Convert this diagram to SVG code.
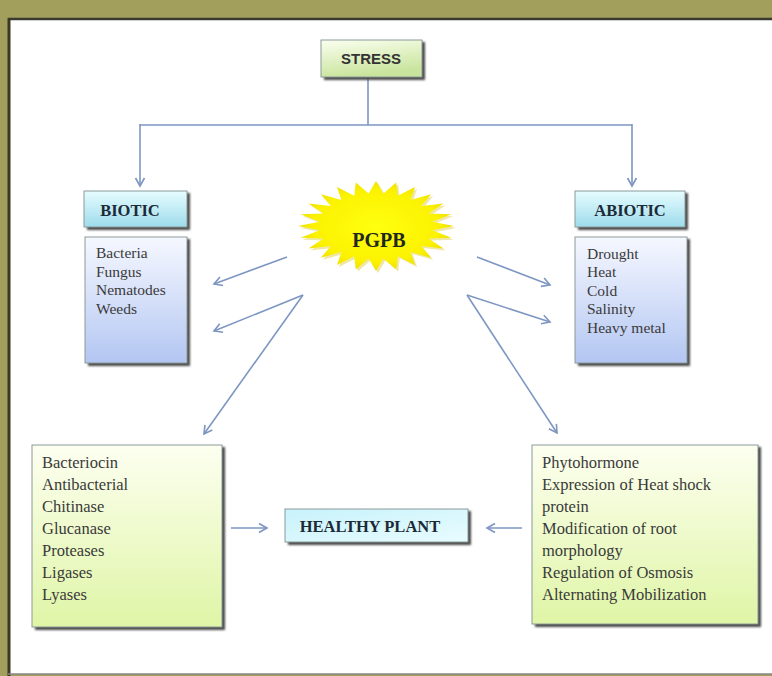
<svg xmlns="http://www.w3.org/2000/svg" width="772" height="676" viewBox="0 0 772 676">
<defs>
<linearGradient id="gGreen" x1="0" y1="0" x2="0.3" y2="1"><stop offset="0" stop-color="#fbfff0"/><stop offset="1" stop-color="#c9e49c"/></linearGradient>
<linearGradient id="gCyan" x1="0" y1="0" x2="0" y2="1"><stop offset="0" stop-color="#e6fcff"/><stop offset="1" stop-color="#9edcec"/></linearGradient>
<linearGradient id="gCyan2" x1="0" y1="0" x2="1" y2="1"><stop offset="0" stop-color="#c8f2fb"/><stop offset="1" stop-color="#e8fcff"/></linearGradient>
<linearGradient id="gBlue" x1="0" y1="0" x2="0" y2="1"><stop offset="0" stop-color="#f6f8ff"/><stop offset="1" stop-color="#b3c6f2"/></linearGradient>
<linearGradient id="gLime" x1="0" y1="0" x2="0" y2="1"><stop offset="0" stop-color="#fdfff0"/><stop offset="1" stop-color="#dff5a6"/></linearGradient>
<radialGradient id="gStar" cx="0.5" cy="0.5" r="0.5"><stop offset="0" stop-color="#ffff10"/><stop offset="0.8" stop-color="#fbf200"/><stop offset="1" stop-color="#efe000"/></radialGradient>
<filter id="sh" x="-10%" y="-10%" width="130%" height="130%"><feGaussianBlur stdDeviation="1.2"/></filter>
<marker id="ah" markerWidth="12" markerHeight="12" refX="10" refY="6" orient="auto" markerUnits="userSpaceOnUse"><polyline points="2,1.5 10,6 2,10.5" fill="none" stroke="#7d96c2" stroke-width="1.6"/></marker>
</defs>
<style>
.shadow{fill:#4a4a4a;filter:url(#sh);}
.bx{stroke:#8a9a9a;stroke-width:1;}
.lbl{font-family:"Liberation Serif","Times New Roman",serif;font-weight:bold;font-size:16.5px;fill:#1c2a36;text-anchor:middle;}
.big{font-size:20px;fill:#1e2a20;}
.lst{font-family:"Liberation Serif","Times New Roman",serif;font-size:15.5px;fill:#3a3a3a;}
.lst2{font-family:"Liberation Serif","Times New Roman",serif;font-size:16.5px;fill:#3a3a3a;}
.cn{fill:none;stroke:#7d96c2;stroke-width:1.6;}
</style>
<rect x="0" y="0" width="772" height="676" fill="#a29f5c"/>
<rect x="8" y="18" width="764" height="656" fill="#ffffff"/>
<line x1="8" y1="19" x2="772" y2="19" stroke="#3a3a30" stroke-width="2.5"/>
<line x1="9" y1="18" x2="9" y2="676" stroke="#3a3820" stroke-width="3"/>
<line x1="8" y1="674" x2="772" y2="674" stroke="#888" stroke-width="1.5"/>

<g id="connectors">
<polyline class="cn" points="368,78 368,125"/>
<polyline class="cn" points="140,125 632,125"/>
<line class="cn" x1="140" y1="124" x2="140" y2="186" marker-end="url(#ah)"/>
<line class="cn" x1="632" y1="124" x2="632" y2="186" marker-end="url(#ah)"/>
<line class="cn" x1="287" y1="257" x2="214" y2="284" marker-end="url(#ah)"/>
<line class="cn" x1="303" y1="295" x2="214" y2="331" marker-end="url(#ah)"/>
<line class="cn" x1="303" y1="295" x2="204" y2="434" marker-end="url(#ah)"/>
<line class="cn" x1="477" y1="257" x2="550" y2="285" marker-end="url(#ah)"/>
<line class="cn" x1="467" y1="295" x2="550" y2="322" marker-end="url(#ah)"/>
<line class="cn" x1="467" y1="295" x2="557" y2="433" marker-end="url(#ah)"/>
<line class="cn" x1="231" y1="528" x2="267" y2="528" marker-end="url(#ah)"/>
<line class="cn" x1="522" y1="528" x2="487" y2="528" marker-end="url(#ah)"/>
</g>

<g id="stress">
<rect class="shadow" x="324" y="42" width="101" height="38"/>
<rect class="bx" x="321" y="40" width="101" height="37" fill="url(#gGreen)"/>
<text x="371" y="64" text-anchor="middle" font-family="'Liberation Sans Narrow','Liberation Sans',Arial,sans-serif" font-weight="bold" font-size="15" fill="#333">STRESS</text>
</g>

<g id="biotic">
<rect class="shadow" x="87" y="193" width="103" height="37"/>
<rect class="bx" x="84" y="191" width="103" height="36" fill="url(#gCyan)"/>
<text class="lbl" x="130" y="216">BIOTIC</text>
</g>

<g id="abiotic">
<rect class="shadow" x="578" y="193" width="110" height="37"/>
<rect class="bx" x="575" y="191" width="110" height="36" fill="url(#gCyan)"/>
<text class="lbl" x="630" y="216">ABIOTIC</text>
</g>

<g id="biotic-list">
<rect class="shadow" x="88" y="239" width="102" height="127"/>
<rect class="bx" x="85" y="237" width="102" height="126" fill="url(#gBlue)"/>
<text class="lst" x="96" y="258">Bacteria</text>
<text class="lst" x="96" y="277">Fungus</text>
<text class="lst" x="96" y="295">Nematodes</text>
<text class="lst" x="96" y="314">Weeds</text>
</g>

<g id="abiotic-list">
<rect class="shadow" x="578" y="239" width="112" height="127"/>
<rect class="bx" x="575" y="237" width="112" height="126" fill="url(#gBlue)"/>
<text class="lst" x="587" y="259">Drought</text>
<text class="lst" x="587" y="277">Heat</text>
<text class="lst" x="587" y="296">Cold</text>
<text class="lst" x="587" y="314">Salinity</text>
<text class="lst" x="587" y="333">Heavy metal</text>
</g>

<g id="pgpb">
<polygon transform="translate(378,228) scale(0.78,0.45)" fill="#e0d050" opacity="0.5" points="100,0 72.3,9.5 96.6,25.9 67.4,27.9 86.6,50 57.9,44.4 70.7,70.7 44.4,57.9 50,86.6 27.9,67.4 25.9,96.6 9.5,72.3 0,100 -9.5,72.3 -25.9,96.6 -27.9,67.4 -50,86.6 -44.4,57.9 -70.7,70.7 -57.9,44.4 -86.6,50 -67.4,27.9 -96.6,25.9 -72.3,9.5 -100,0 -72.3,-9.5 -96.6,-25.9 -67.4,-27.9 -86.6,-50 -57.9,-44.4 -70.7,-70.7 -44.4,-57.9 -50,-86.6 -27.9,-67.4 -25.9,-96.6 -9.5,-72.3 0,-100 9.5,-72.3 25.9,-96.6 27.9,-67.4 50,-86.6 44.4,-57.9 70.7,-70.7 57.9,-44.4 86.6,-50 67.4,-27.9 96.6,-25.9 72.3,-9.5"/>
<polygon transform="translate(376,226) scale(0.78,0.45)" fill="url(#gStar)" points="100,0 72.3,9.5 96.6,25.9 67.4,27.9 86.6,50 57.9,44.4 70.7,70.7 44.4,57.9 50,86.6 27.9,67.4 25.9,96.6 9.5,72.3 0,100 -9.5,72.3 -25.9,96.6 -27.9,67.4 -50,86.6 -44.4,57.9 -70.7,70.7 -57.9,44.4 -86.6,50 -67.4,27.9 -96.6,25.9 -72.3,9.5 -100,0 -72.3,-9.5 -96.6,-25.9 -67.4,-27.9 -86.6,-50 -57.9,-44.4 -70.7,-70.7 -44.4,-57.9 -50,-86.6 -27.9,-67.4 -25.9,-96.6 -9.5,-72.3 0,-100 9.5,-72.3 25.9,-96.6 27.9,-67.4 50,-86.6 44.4,-57.9 70.7,-70.7 57.9,-44.4 86.6,-50 67.4,-27.9 96.6,-25.9 72.3,-9.5"/>
<text class="lbl big" x="379" y="247">PGPB</text>
</g>

<g id="left-list">
<rect class="shadow" x="35" y="447" width="190" height="183"/>
<rect class="bx" x="32" y="445" width="190" height="182" fill="url(#gLime)"/>
<text class="lst2" x="42" y="468">Bacteriocin</text>
<text class="lst2" x="42" y="490">Antibacterial</text>
<text class="lst2" x="42" y="512">Chitinase</text>
<text class="lst2" x="42" y="534">Glucanase</text>
<text class="lst2" x="42" y="556">Proteases</text>
<text class="lst2" x="42" y="578">Ligases</text>
<text class="lst2" x="42" y="600">Lyases</text>
</g>

<g id="right-list">
<rect class="shadow" x="535" y="447" width="226" height="180"/>
<rect class="bx" x="532" y="445" width="226" height="179" fill="url(#gLime)"/>
<text class="lst2" x="542" y="468">Phytohormone</text>
<text class="lst2" x="542" y="490">Expression of Heat shock</text>
<text class="lst2" x="542" y="512">protein</text>
<text class="lst2" x="542" y="534">Modification of root</text>
<text class="lst2" x="542" y="556">morphology</text>
<text class="lst2" x="542" y="578">Regulation of Osmosis</text>
<text class="lst2" x="542" y="600">Alternating  Mobilization</text>
</g>

<g id="healthy-plant">
<rect class="shadow" x="288" y="511" width="183" height="34"/>
<rect class="bx" x="285" y="509" width="183" height="33" fill="url(#gCyan2)"/>
<text class="lbl" x="370" y="532">HEALTHY PLANT</text>
</g>
</svg>
